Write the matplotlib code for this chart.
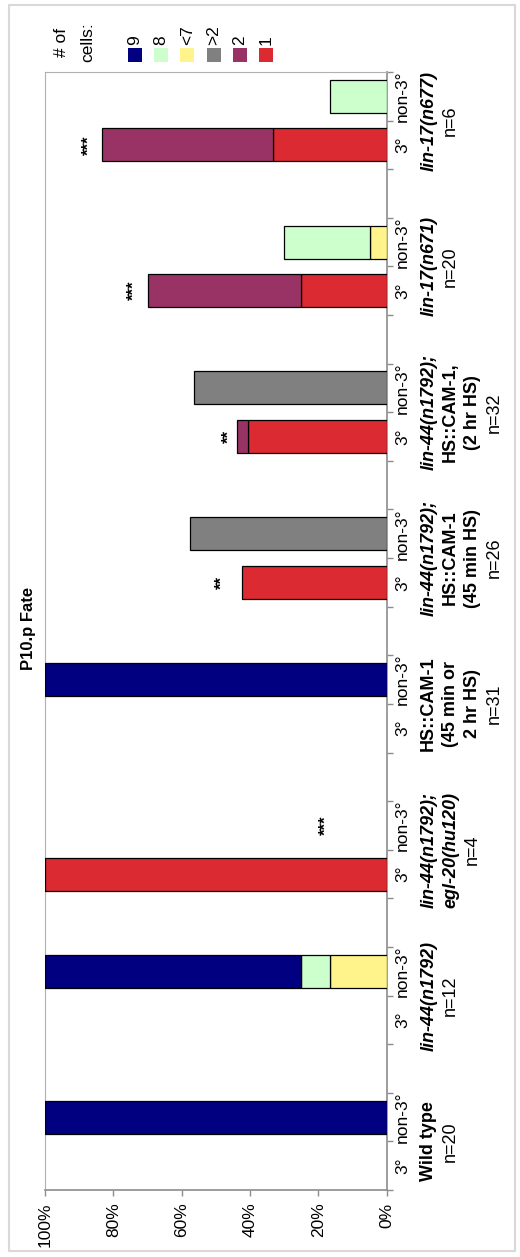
import numpy as np
import matplotlib
matplotlib.use('Agg')
from matplotlib import pyplot as plt
from matplotlib.patches import Rectangle

plt.rcParams['font.family'] = ['Liberation Sans', 'DejaVu Sans']

############################# data ################################
# bars run from "Wild type, 3°" (bottom) to "lin-17(n677), non-3°" (top)
groups = ['Wild type', 'lin-44(n1792)', 'lin-44(n1792);\negl-20(hu120)',
          'HS::CAM-1\n(45 min or\n2 hr HS)',
          'lin-44(n1792);\nHS::CAM-1\n(45 min HS)',
          'lin-44(n1792);\nHS::CAM-1,\n(2 hr HS)',
          'lin-17(n671)', 'lin-17(n677)']
n_animals = [20, 12, 4, 31, 26, 32, 20, 6]
fates = ['3°', 'non-3°']

#            WT        lin-44      egl-20     HS::CAM    45 min      2 hr        n671       n677
cells_1   = [0, 0,     0, 0,       100, 0,    0, 0,      42.3, 0,    40.6, 0,    25, 0,     33.3, 0]
cells_2   = [0, 0,     0, 0,       0, 0,      0, 0,      0, 0,       3.1, 0,     45, 0,     50, 0]
cells_gt2 = [0, 0,     0, 0,       0, 0,      0, 0,      0, 57.7,    0, 56.3,    0, 0,      0, 0]
cells_lt7 = [0, 0,     0, 16.7,    0, 0,      0, 0,      0, 0,       0, 0,       0, 5,      0, 0]
cells_8   = [0, 0,     0, 8.3,     0, 0,      0, 0,      0, 0,       0, 0,       0, 25,     0, 16.7]
cells_9   = [0, 100,   0, 75,      0, 0,      0, 100,    0, 0,       0, 0,       0, 0,      0, 0]

series = [cells_1, cells_2, cells_gt2, cells_lt7, cells_8, cells_9]
series_labels = ['1', '2', '>2', '<7', '8', '9']
series_colors = ['#DC2A32', '#993366', '#808080', '#FFF48C', '#CCFFCC', '#000080']

# significance marks: group, fate (0 = 3°, 1 = non-3°), position in %
sig_marks = ['***', '**', '**', '***', '***']
sig_group = [2, 4, 5, 6, 7]
sig_fate = [1, 0, 0, 0, 0]
sig_pos = [17.6, 48, 46, 74, 87]

################################################################################
W, H = 520, 1257
fig = plt.figure(figsize=(W / 100, H / 100), dpi=100)

def fx(x):
    return x / W

def fy(y):
    return 1 - y / H

# plot area (pixels): left 45, right 386.7, top 72, bottom 1190
ax = fig.add_axes([fx(45), fy(1190), fx(386.7) - fx(45), fy(72) - fy(1190)])

slot = np.array([3 * g + f for g in range(len(groups)) for f in range(2)])
left = np.zeros(len(slot))
for vals, col in zip(series, series_colors):
    vals = np.array(vals, dtype=float)
    m = vals > 0
    ax.barh(slot[m], vals[m], left=left[m], height=0.68, color=col,
            edgecolor='black', linewidth=0.9, zorder=3)
    left += vals

ax.set_xlim(100, 0)
ax.set_ylim(-0.5, 3 * len(groups) - 1.5)

ax.set_xticks(np.arange(0, 101, 20))
ax.set_xticklabels([f'{v}%' for v in range(0, 101, 20)], rotation=90,
                   va='top', ha='center', fontsize=12.5)
ax.tick_params(axis='x', length=4, width=1, color='#8c8c8c', pad=5)

ax.yaxis.tick_right()
ax.set_yticks(slot)
ax.set_yticklabels(fates * len(groups), rotation=90, va='center', ha='left', fontsize=12.5)
ax.set_yticks(np.arange(-0.5, 3 * len(groups) - 1, 1), minor=True)
ax.tick_params(axis='y', which='major', length=0, pad=6)
ax.tick_params(axis='y', which='minor', length=4, width=1, color='#8c8c8c',
               right=True, left=False)

for side in ['top', 'left']:
    ax.spines[side].set_color('#b0b0b0')
for side in ['right', 'bottom']:
    ax.spines[side].set_color('#8c8c8c')
    ax.spines[side].set_linewidth(1.2)

# group names + n under the 3°/non-3° labels
for g, name in enumerate(groups):
    lines = name.split('\n') + [f'n={n_animals[g]}']
    for i, line in enumerate(lines):
        last = i == len(lines) - 1
        italic = line.startswith('lin-') or line.startswith('egl-')
        ax.annotate(line, xy=(1, 3 * g + 0.5), xycoords=ax.get_yaxis_transform(),
                    xytext=(42 + 22 * i, 0), textcoords='offset pixels',
                    rotation=90, ha='center', va='center', fontsize=13,
                    fontweight='normal' if last else 'bold',
                    fontstyle='italic' if italic else 'normal')

for mark, g, f, pos in zip(sig_marks, sig_group, sig_fate, sig_pos):
    ax.text(pos, 3 * g + f, mark, rotation=90, ha='center', va='center',
            fontsize=12, fontweight='bold', zorder=4)

# title
fig.text(fx(28), fy(628), 'P10.p Fate', rotation=90, ha='center', va='center',
         fontsize=12, fontweight='bold')

# legend
fig.text(fx(62), fy(42), '# of', rotation=90, ha='center', va='center', fontsize=12.5)
fig.text(fx(88), fy(42), 'cells:', rotation=90, ha='center', va='center', fontsize=12.5)
for i, (lab, col) in enumerate(zip(series_labels[::-1], series_colors[::-1])):
    xc = 135 + 26.2 * i
    fig.patches.append(Rectangle((fx(xc - 7), fy(62)), fx(14), fy(48) - fy(62),
                                 transform=fig.transFigure, facecolor=col,
                                 edgecolor='none'))
    fig.text(fx(xc), fy(45), lab, rotation=90, ha='center', va='bottom', fontsize=12.5)

# chart border
fig.patches.append(Rectangle((fx(9), fy(1251)), fx(506), fy(5) - fy(1251),
                             transform=fig.transFigure, fill=False,
                             edgecolor='#d9d9d9', linewidth=1.5))

plt.savefig('out.png', dpi=100)
